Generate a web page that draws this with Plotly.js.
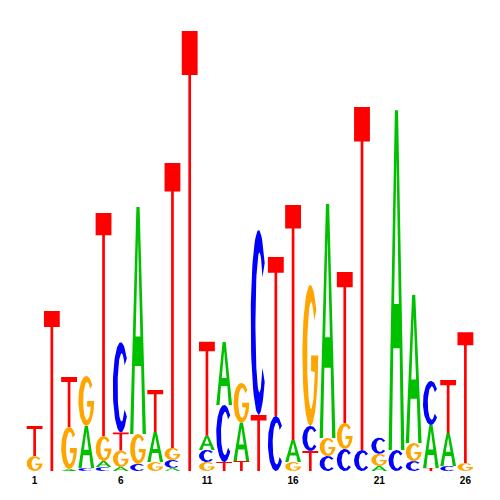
<!DOCTYPE html>
<html>
<head>
<meta charset="utf-8">
<script src="https://cdn.plot.ly/plotly-3.0.1.min.js"></script>
<style>html,body{margin:0;padding:0;background:#fff}#chart{width:500px;height:500px}</style>
</head>
<body>
<div id="chart"></div>
<script>
// Sequence logo: per-position letter heights (bits)
const positions = [1,2,3,4,5,6,7,8,9,10,11,12,13,14,15,16,17,18,19,20,21,22,23,24,25,26];
const heightA = [0,0,0.009,0.191,0.027,0.018,1.032,0.136,0.014,0,0.064,0.286,0.175,0,0,0.100,0,1.064,0,0,0.023,1.545,0.673,0.195,0.150,0];
const heightC = [0,0,0,0.014,0.018,0.410,0.032,0,0.036,0,0.055,0.259,0,0.840,0.250,0,0.114,0.068,0.100,0.095,0.073,0.095,0.045,0.200,0.023,0];
const heightG = [0.068,0,0.191,0.227,0.114,0.075,0.136,0.041,0.055,0,0.041,0,0.180,0,0,0.041,0.641,0.082,0.118,0,0.055,0,0.082,0,0,0.036];
const heightT = [0.136,0.727,0.227,0,1.014,0.082,0,0.191,1.295,2.0,0.427,0.041,0.045,0.255,0.723,1.068,0.091,0,0.686,1.559,0,0,0,0.014,0.241,0.595];
const letters = ['A','C','G','T'];
const letterColors = {A:'#00C000', C:'#0000FF', G:'#FFA500', T:'#FF0000'};
const tickVals = [1,6,11,16,21,26];
const tickText = ['1','6','11','16','21','26'];

// glyph outlines in a unit box
function arc(cx, rx, ry, a0, a1, n){
  const pts=[];
  for(let i=0;i<=n;i++){const a=(a0+(a1-a0)*i/n)*Math.PI/180;pts.push([cx+rx*Math.cos(a),0.5+ry*Math.sin(a)]);}
  return pts;
}
const glyphs = {
  T: [[0,1],[1,1],[1,0.9],[0.585,0.9],[0.585,0],[0.415,0],[0.415,0.9],[0,0.9]],
  A: [[0,0],[0.21,0],[0.3,0.3],[0.7,0.3],[0.79,0],[1,0],[0.6,1],[0.4,1],[0,0],
      [0.35,0.43],[0.5,0.86],[0.65,0.43],[0.35,0.43],[0,0]],
  C: arc(0.5,0.5,0.5,40,320,60).concat(arc(0.55,0.25,0.38,320,40,60)),
  G: arc(0.5,0.5,0.5,40,360,60).concat([[0.55,0.5],[0.55,0.39]]).concat(arc(0.55,0.25,0.38,-18,-320,60))
};

const glyphWidth = 0.92;
const data = {A:heightA, C:heightC, G:heightG, T:heightT};
const xs={A:[],C:[],G:[],T:[]}, ys={A:[],C:[],G:[],T:[]};
positions.forEach((p,i)=>{
  const stack = letters.map(L=>({L, h:data[L][i]})).filter(o=>o.h>0).sort((a,b)=>a.h-b.h);
  let base = 0;
  stack.forEach(o=>{
    glyphs[o.L].forEach(([u,v])=>{xs[o.L].push(p-glyphWidth/2+u*glyphWidth); ys[o.L].push(base+v*o.h);});
    xs[o.L].push(null); ys[o.L].push(null);
    base += o.h;
  });
});

const traces = letters.map(L=>({
  type:'scatter', mode:'lines', x:xs[L], y:ys[L], fill:'toself',
  fillcolor:letterColors[L], line:{width:0, color:letterColors[L]},
  hoverinfo:'skip', showlegend:false
}));

const layout = {
  width:500, height:500,
  margin:{l:26, r:26, t:20, b:29},
  paper_bgcolor:'#fff', plot_bgcolor:'#fff',
  xaxis:{range:[0.5,26.5], tickvals:tickVals, ticktext:tickText, showgrid:false, zeroline:false,
         showline:false, ticks:'', ticklabelstandoff:2, tickfont:{family:'Liberation Sans, Arial', size:10, color:'#000', weight:'bold'}},
  yaxis:{range:[0,2.05], visible:false, showgrid:false, zeroline:false},
  showlegend:false
};
Plotly.newPlot('chart', traces, layout, {staticPlot:true, displayModeBar:false});
</script>
</body>
</html>
